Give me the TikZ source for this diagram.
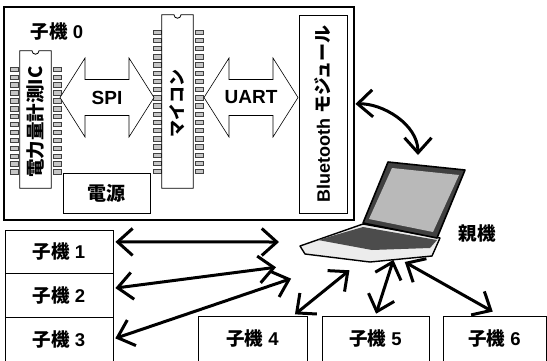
\documentclass[tikz,border=0pt]{standalone}
\usepackage{fontspec}
\setmainfont{Liberation Sans}
\newfontfamily\jp{Noto Sans CJK JP}
\usetikzlibrary{arrows.meta}

\tikzset{
  kobox/.style={draw, line width=0.8pt, inner sep=0pt, minimum height=44pt,
    font=\bfseries\fontsize{18.5}{20}\selectfont},
  chipbody/.style={rectangle, inner sep=0pt, minimum width=31pt},
  pin/.style={fill=gray!45, draw=gray!50!black, line width=0.4pt},
  busarrow/.style={draw, fill=white, line width=0.6pt, line join=miter},
  buslabel/.style={font=\bfseries\fontsize{19}{20}\selectfont},
  link/.style={line width=3pt, >={Straight Barb[length=15pt,width=27pt]}, <->,
    shorten <=2pt, shorten >=2pt},
}

\begin{document}
\begin{tikzpicture}[x=1pt,y=-1pt]
  \useasboundingbox (0,0) rectangle (547,360);

  % slave unit 0
  \node[draw, line width=1.2pt, minimum width=350pt, minimum height=213pt, inner sep=0pt] (ko0) at (179,113.5) {};
  \node[font=\bfseries\fontsize{18.5}{20}\selectfont] (ko0label) at (57,32) {{\jp 子機} 0};

  % power measurement IC
  \node[chipbody, minimum height=137pt] (ic) at (35.5,119.5) {};
  \foreach \i in {0,...,13} {
    \draw[pin] (10,69+7.9*\i-2.2) rectangle (18,69+7.9*\i+2.2);
    \draw[pin] (53,69+7.9*\i-2.2) rectangle (61,69+7.9*\i+2.2);
  }
  \draw[line width=0.8pt, fill=white] (ic.north west) -- ([xshift=-3.5pt]ic.north)
    .. controls +(0,4.5) and +(0,4.5) .. ([xshift=3.5pt]ic.north)
    -- (ic.north east) -- (ic.south east) -- (ic.south west) -- cycle;
  \node[rotate=90, font=\jp\bfseries\fontsize{18.5}{20}\selectfont] (iclabel) at (35.5,122) {電力量計測IC};

  % microcontroller
  \node[chipbody, minimum height=173pt] (mcu) at (177.5,101.5) {};
  \foreach \i in {0,...,17} {
    \draw[pin] (153,32+8.2*\i-2.2) rectangle (161,32+8.2*\i+2.2);
    \draw[pin] (195,32+8.2*\i-2.2) rectangle (203,32+8.2*\i+2.2);
  }
  \draw[line width=0.8pt, fill=white] (mcu.north west) -- ([xshift=-3.5pt]mcu.north)
    .. controls +(0,4.5) and +(0,4.5) .. ([xshift=3.5pt]mcu.north)
    -- (mcu.north east) -- (mcu.south east) -- (mcu.south west) -- cycle;
  \node[rotate=90, font=\jp\bfseries\fontsize{17}{20}\selectfont] (mculabel) at (177.5,103) {マイコン};

  % bluetooth module and power supply
  \node[draw, line width=0.8pt, minimum width=48pt, minimum height=198pt, inner sep=0pt] (bt) at (323,114) {};
  \node[rotate=90, font=\bfseries\fontsize{18}{20}\selectfont] (btlabel) at (bt) {Bluetooth {\jp モジュール}};
  \node[draw, line width=0.8pt, minimum width=87pt, minimum height=40pt, inner sep=0pt,
    font=\jp\bfseries\fontsize{19}{20}\selectfont] (psu) at (106.5,193) {電源};

  % buses
  \foreach \x/\name/\txt in {107/spi/SPI, 251/uart/UART} {
    \draw[busarrow] (\x-47,97.5) -- (\x-22,58) -- (\x-22,79.5) -- (\x+22,79.5) -- (\x+22,58)
      -- (\x+47,97.5) -- (\x+22,137) -- (\x+22,115.5) -- (\x-22,115.5) -- (\x-22,137) -- cycle;
    \node[buslabel] (\name) at (\x,97.5) {\txt};
  }

  % notebook PC
  \draw[line width=1.4pt, fill=gray!15, line join=round] (300,246) -- (363,224) -- (440,238)
    -- (432,256) -- (370,262) -- (305,254) -- cycle;
  \fill[black!70] (318,240) -- (363,227) -- (437,240) -- (430,248) -- (372,250) -- cycle;
  \draw[line width=1.6pt, fill=black!75, line join=round] (388,162) -- (465,170) -- (437,238) -- (363,223) -- cycle;
  \fill[gray!55] (392,168) -- (459,175) -- (433,232) -- (369,219) -- cycle;
  \node[font=\jp\bfseries\fontsize{18.5}{20}\selectfont] (oya) at (477,233) {親機};

  \coordinate (pc1) at (281,242);
  \coordinate (pc2) at (278,267);
  \coordinate (pc3) at (293,278);
  \coordinate (pc4) at (351,269);
  \coordinate (pc5) at (394,258);
  \coordinate (pc6) at (403,261);
  \coordinate (pctop) at (418,157);

  % slave units 1-6
  \node[kobox, minimum width=108pt, minimum height=43pt] (ko1) at (59,251.5) {{\jp 子機} 1};
  \node[kobox, minimum width=108pt] (ko2) at (59,295) {{\jp 子機} 2};
  \node[kobox, minimum width=108pt] (ko3) at (59,339) {{\jp 子機} 3};
  \node[kobox, minimum width=109pt, minimum height=45pt] (ko4) at (252.5,338.5) {{\jp 子機} 4};
  \node[kobox, minimum width=107pt, minimum height=45pt] (ko5) at (375.5,338.5) {{\jp 子機} 5};
  \node[kobox, minimum width=103pt, minimum height=45pt] (ko6) at (494.5,338.5) {{\jp 子機} 6};

  % radio links
  \draw[link] ([xshift=6pt,yshift=10pt]bt.east) .. controls (382,103) and (418,124) .. (pctop);
  \draw[link] (ko1.10) -- (pc1);
  \draw[link] (ko2.7) -- (pc2);
  \draw[link] (ko3.east) -- (pc3);
  \draw[link] ([xshift=-14pt]ko4.north east) -- (pc4);
  \draw[link] (ko5.north) -- (pc5);
  \draw[link] ([yshift=3pt]ko6.north) -- (pc6);
\end{tikzpicture}
\end{document}
